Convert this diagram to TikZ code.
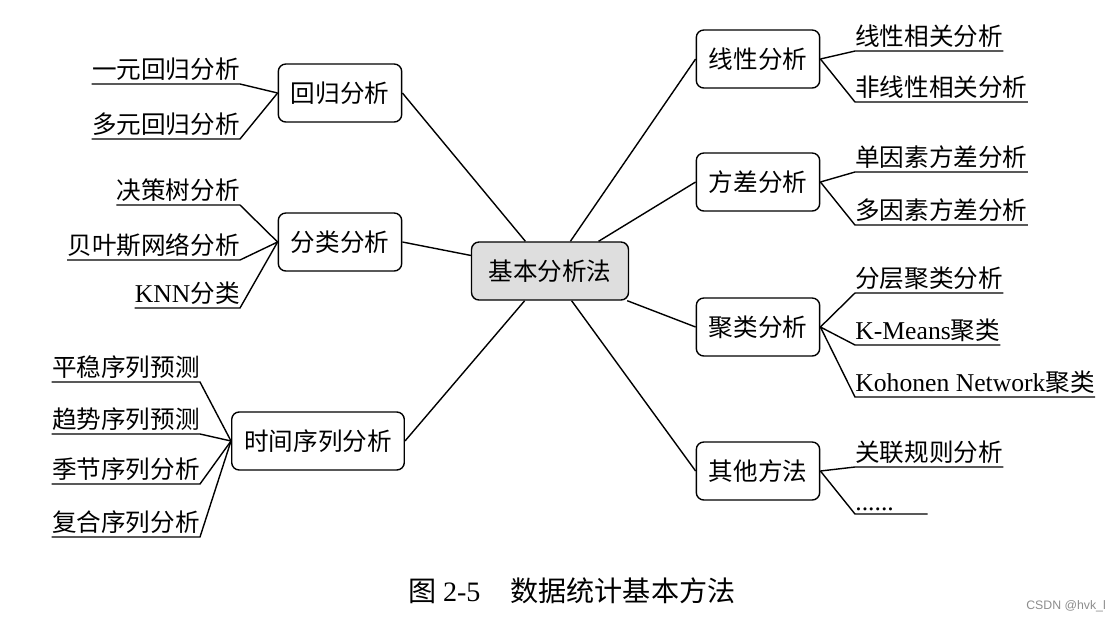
\documentclass[tikz,border=0pt]{standalone}
\usepackage{fontspec}
\setmainfont{Liberation Serif}
\newfontfamily\cjk{Noto Sans CJK SC}
\newfontfamily\wmfont{Liberation Sans}
\usepackage{tikz}
\usetikzlibrary{positioning}
\newcommand{\lat}[1]{{\rmfamily\fontsize{14.6}{16}\selectfont #1}}
\tikzstyle{method_box}=[rectangle, rounded corners=0.15cm, draw=black, line width=0.8pt, fill=white, minimum height=1.16cm, inner xsep=0.25cm, font=\cjk\fontsize{14}{16}\selectfont]
\tikzstyle{root_box}=[method_box, fill=black!13, minimum width=3.14cm]
\tikzstyle{leaf_left}=[inner xsep=0pt, inner ysep=1.5pt, anchor=south east, font=\cjk\fontsize{14}{16}\selectfont]
\tikzstyle{leaf_right}=[inner xsep=0pt, inner ysep=1.5pt, anchor=south west, font=\cjk\fontsize{14}{16}\selectfont]
\tikzstyle{link}=[line width=0.8pt]

\begin{document}
\begin{tikzpicture}[x=0.02cm, y=-0.02cm]
          \useasboundingbox (0,0) rectangle (1120,620);
          % centre and method boxes
          \node[root_box] (root) at (550,271){基本分析法};
          \node[method_box] (reg) at (340,93){回归分析};
          \node[method_box] (cls) at (340,242){分类分析};
          \node[method_box] (ts) at (318,441){时间序列分析};
          \node[method_box] (lin) at (758,59){线性分析};
          \node[method_box] (var) at (758,182){方差分析};
          \node[method_box] (clu) at (758,327){聚类分析};
          \node[method_box] (oth) at (758,471){其他方法};
          \draw[link](reg.east) -- (root);
          \draw[link](cls.east) -- (root);
          \draw[link](ts.east) -- (root);
          \draw[link](lin.west) -- (root);
          \draw[link](var.west) -- (root);
          \draw[link](clu.west) -- (root);
          \draw[link](oth.west) -- (root);
          % left leaves
          \node[leaf_left] (reg1) at (240,84){一元回归分析};
          \node[leaf_left] (reg2) at (240,139){多元回归分析};
          \draw[link](reg1.south west) -- (reg1.south east) -- (reg.west);
          \draw[link](reg2.south west) -- (reg2.south east) -- (reg.west);
          \node[leaf_left] (cls1) at (240,205){决策树分析};
          \node[leaf_left] (cls2) at (240,260){贝叶斯网络分析};
          \node[leaf_left] (cls3) at (240,308){\lat{KNN}分类};
          \draw[link](cls1.south west) -- (cls1.south east) -- (cls.west);
          \draw[link](cls2.south west) -- (cls2.south east) -- (cls.west);
          \draw[link](cls3.south west) -- (cls3.south east) -- (cls.west);
          \node[leaf_left] (ts1) at (200,382){平稳序列预测};
          \node[leaf_left] (ts2) at (200,434){趋势序列预测};
          \node[leaf_left] (ts3) at (200,484){季节序列分析};
          \node[leaf_left] (ts4) at (200,537){复合序列分析};
          \draw[link](ts1.south west) -- (ts1.south east) -- (ts.west);
          \draw[link](ts2.south west) -- (ts2.south east) -- (ts.west);
          \draw[link](ts3.south west) -- (ts3.south east) -- (ts.west);
          \draw[link](ts4.south west) -- (ts4.south east) -- (ts.west);
          % right leaves
          \node[leaf_right] (lin1) at (855,51){线性相关分析};
          \node[leaf_right] (lin2) at (855,102){非线性相关分析};
          \draw[link](lin.east) -- (lin1.south west) -- (lin1.south east);
          \draw[link](lin.east) -- (lin2.south west) -- (lin2.south east);
          \node[leaf_right] (var1) at (855,172){单因素方差分析};
          \node[leaf_right] (var2) at (855,225){多因素方差分析};
          \draw[link](var.east) -- (var1.south west) -- (var1.south east);
          \draw[link](var.east) -- (var2.south west) -- (var2.south east);
          \node[leaf_right] (clu1) at (855,293){分层聚类分析};
          \node[leaf_right] (clu2) at (855,345){\lat{K-Means}聚类};
          \node[leaf_right] (clu3) at (855,397){\lat{Kohonen Network}聚类};
          \draw[link](clu.east) -- (clu1.south west) -- (clu1.south east);
          \draw[link](clu.east) -- (clu2.south west) -- (clu2.south east);
          \draw[link](clu.east) -- (clu3.south west) -- (clu3.south east);
          \node[leaf_right] (oth1) at (855,467){关联规则分析};
          \node[leaf_right, text width=1.44cm] (oth2) at (855,514){\lat{......}};
          \draw[link](oth.east) -- (oth1.south west) -- (oth1.south east);
          \draw[link](oth.east) -- (oth2.south west) -- (oth2.south east);
          % caption and mark
          \node[font=\cjk\fontsize{16}{18}\selectfont] (cap) at (572,591){图~{\rmfamily 2-5}\hspace{0.6cm}数据统计基本方法};
          \node[font=\wmfont\fontsize{7}{8}\selectfont, text=black!45, anchor=east] (mark) at (1112,606){CSDN @hvk\_l};
        \end{tikzpicture}
\end{document}
